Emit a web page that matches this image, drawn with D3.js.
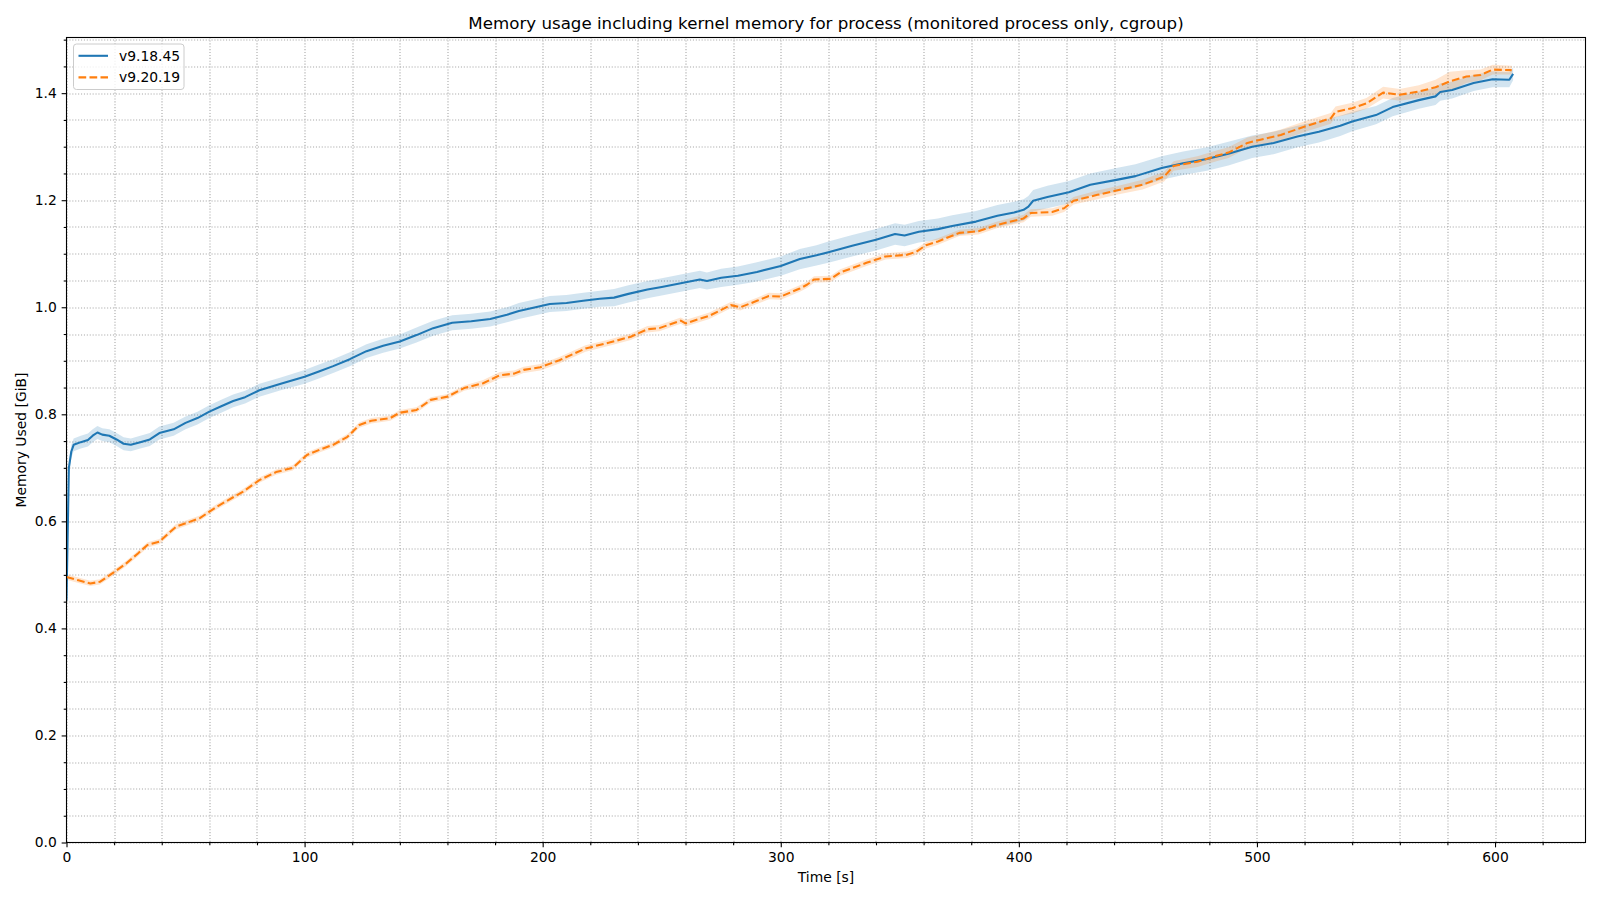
<!DOCTYPE html>
<html>
<head>
<meta charset="utf-8">
<script src="https://cdn.jsdelivr.net/npm/d3@7"></script>
<style>
  html, body { margin: 0; padding: 0; background: #fff; }
  svg { display: block; font-family: "DejaVu Sans", sans-serif; }
</style>
</head>
<body>
<svg id="chart" width="1600" height="900"></svg>
<script>
// ---- data ----
const seriesNames = ["v9.18.45", "v9.20.19"];
const blueTime = [0,1,2,3,6,9,11,13,15,18,21,24,27,31,35,39,45,50,55,60,65,70,75,81,90,100,106,112,119,126,133,140,147,154,162,170,178,185,190,197,203,210,217,224,230,236,244,250,258,266,269,275,282,290,300,308,315,320,330,340,348,352,358,366,372,382,391,398,402,404,406,412,421,430,441,449,460,469,479,488,498,507,517,526,535,540,550,557,568,575,577,582,591,599,606,607.6];
const blueMean = [0.452,0.700,0.730,0.743,0.748,0.752,0.760,0.766,0.762,0.760,0.753,0.745,0.743,0.748,0.753,0.765,0.772,0.784,0.793,0.805,0.815,0.825,0.832,0.845,0.857,0.870,0.880,0.890,0.903,0.918,0.928,0.936,0.948,0.961,0.971,0.974,0.978,0.986,0.993,1.000,1.006,1.008,1.012,1.016,1.018,1.025,1.033,1.038,1.045,1.052,1.049,1.055,1.059,1.066,1.077,1.090,1.097,1.103,1.115,1.126,1.137,1.134,1.141,1.146,1.152,1.160,1.171,1.177,1.182,1.188,1.199,1.206,1.215,1.229,1.238,1.245,1.260,1.269,1.277,1.287,1.300,1.307,1.319,1.328,1.339,1.347,1.359,1.374,1.387,1.394,1.402,1.406,1.419,1.426,1.425,1.436];
const blueHalf = [0.004,0.010,0.012,0.012,0.012,0.012,0.012,0.012,0.012,0.012,0.012,0.012,0.012,0.012,0.012,0.012,0.012,0.012,0.012,0.012,0.012,0.012,0.012,0.012,0.012,0.013,0.013,0.013,0.013,0.013,0.013,0.013,0.014,0.014,0.014,0.014,0.014,0.014,0.015,0.015,0.015,0.015,0.015,0.015,0.016,0.016,0.016,0.016,0.016,0.016,0.016,0.017,0.017,0.018,0.018,0.019,0.019,0.020,0.020,0.020,0.020,0.020,0.020,0.020,0.020,0.020,0.020,0.020,0.020,0.020,0.020,0.021,0.021,0.021,0.022,0.022,0.022,0.022,0.022,0.022,0.021,0.021,0.020,0.020,0.019,0.018,0.017,0.017,0.016,0.016,0.016,0.016,0.015,0.015,0.014,0.012];
const orangeTime = [0,5,10,14,20,25,30,34,39,46,56,63,70,74,81,88,95,101,107,112,118,123,128,136,140,147,153,160,167,175,182,188,192,199,207,214,218,228,237,244,249,258,260,270,279,283,290,295,300,308,311,314,321,325,336,344,353,357,361,366,375,383,391,402,405,414,419,423,433,441,452,461,465,475,483,488,496,510,521,531,533,540,546,553,560,568,575,581,588,594,599,607];
const orangeMean = [0.496,0.490,0.484,0.487,0.505,0.521,0.540,0.556,0.562,0.590,0.606,0.627,0.645,0.655,0.677,0.692,0.700,0.724,0.735,0.743,0.758,0.780,0.788,0.793,0.803,0.808,0.827,0.833,0.849,0.858,0.873,0.876,0.883,0.888,0.901,0.915,0.923,0.934,0.945,0.959,0.961,0.975,0.970,0.984,1.004,1.000,1.012,1.021,1.020,1.035,1.042,1.052,1.053,1.065,1.083,1.095,1.098,1.104,1.116,1.123,1.139,1.142,1.154,1.166,1.176,1.178,1.185,1.199,1.210,1.218,1.229,1.244,1.264,1.272,1.283,1.289,1.307,1.322,1.339,1.353,1.365,1.372,1.381,1.401,1.397,1.403,1.411,1.422,1.431,1.434,1.444,1.443];
const orangeHalf = [0.005,0.005,0.005,0.005,0.005,0.005,0.005,0.005,0.005,0.005,0.005,0.005,0.005,0.005,0.005,0.005,0.005,0.005,0.005,0.005,0.005,0.005,0.005,0.005,0.005,0.005,0.005,0.005,0.005,0.006,0.006,0.006,0.006,0.006,0.006,0.006,0.006,0.006,0.006,0.006,0.006,0.006,0.006,0.006,0.006,0.006,0.006,0.006,0.006,0.006,0.006,0.006,0.006,0.006,0.006,0.006,0.006,0.006,0.006,0.006,0.006,0.006,0.006,0.007,0.007,0.007,0.007,0.007,0.008,0.008,0.009,0.009,0.009,0.010,0.010,0.010,0.010,0.010,0.010,0.010,0.010,0.010,0.010,0.011,0.011,0.012,0.014,0.018,0.012,0.010,0.009,0.008];
const xMajorTicks = [0,100,200,300,400,500,600];
const yMajorTicks = [0.0,0.2,0.4,0.6,0.8,1.0,1.2,1.4];
const xDomain = [0, 638];
const yDomain = [0, 1.504];
const titleText = "Memory usage including kernel memory for process (monitored process only, cgroup)";
const xLabel = "Time [s]";
const yLabel = "Memory Used [GiB]";

// ---- layout ----
const L = 66.5, T = 37.5, R = 1585.5, B = 842.5;
const W = R - L, H = B - T;
const colors = ["#1f77b4", "#ff7f0e"];
const FS = "13.89px";

const svg = d3.select("#chart");
const g = svg.append("g").attr("transform", `translate(${L},${T})`);

const x = d3.scaleLinear().domain(xDomain).range([0, W]);
const y = d3.scaleLinear().domain(yDomain).range([H, 0]);

const xMinor = d3.range(0, xDomain[1], 20).filter(v => v % 100 !== 0);
const yMinor = d3.range(0, yDomain[1], 0.05).map(v => +v.toFixed(2)).filter(v => Math.abs(v*5 - Math.round(v*5)) > 1e-6);

// grid (major + minor, dotted)
const gridG = g.append("g");
const allX = xMajorTicks.concat(xMinor);
const allY = yMajorTicks.concat(yMinor);
gridG.selectAll("line.gx").data(allX).join("line")
  .attr("x1", d => Math.round(x(d)) + 0.5).attr("x2", d => Math.round(x(d)) + 0.5)
  .attr("y1", 0).attr("y2", H)
  .attr("stroke", "#a8a8a8").attr("stroke-width", 1.1).attr("stroke-dasharray", "1.1,1.8");
gridG.selectAll("line.gy").data(allY).join("line")
  .attr("y1", d => Math.round(y(d)) + 0.5).attr("y2", d => Math.round(y(d)) + 0.5)
  .attr("x1", 0).attr("x2", W)
  .attr("stroke", "#a8a8a8").attr("stroke-width", 1.1).attr("stroke-dasharray", "1.1,1.8");

// series
const series = [
  { t: blueTime, m: blueMean, h: blueHalf, dash: null },
  { t: orangeTime, m: orangeMean, h: orangeHalf, dash: "7.7,3.3" }
];
g.append("clipPath").attr("id", "clip").append("rect").attr("width", W).attr("height", H);
const plotG = g.append("g").attr("clip-path", "url(#clip)");

series.forEach((s, i) => {
  const pts = s.t.map((t, k) => ({ t, m: s.m[k], h: s.h[k] }));
  const area = d3.area().x(d => x(d.t)).y0(d => y(d.m - d.h)).y1(d => y(d.m + d.h));
  plotG.append("path").datum(pts).attr("d", area)
    .attr("fill", colors[i]).attr("fill-opacity", 0.2).attr("stroke", "none");
});
series.forEach((s, i) => {
  const pts = s.t.map((t, k) => ({ t, m: s.m[k] }));
  const line = d3.line().x(d => x(d.t)).y(d => y(d.m));
  plotG.append("path").datum(pts).attr("d", line)
    .attr("fill", "none").attr("stroke", colors[i]).attr("stroke-width", 2.08)
    .attr("stroke-linejoin", "round")
    .attr("stroke-dasharray", s.dash);
});

// axes
const xAxis = d3.axisBottom(x).tickValues(xMajorTicks).tickFormat(d3.format("d")).tickSize(4.86).tickPadding(4.86);
const yAxis = d3.axisLeft(y).tickValues(yMajorTicks).tickFormat(d3.format(".1f")).tickSize(4.86).tickPadding(4.86);
const xAxisG = g.append("g").attr("transform", `translate(0,${H})`).call(xAxis);
const yAxisG = g.append("g").call(yAxis);
const xMinorG = g.append("g").attr("transform", `translate(0,${H})`)
  .call(d3.axisBottom(x).tickValues(xMinor).tickFormat("").tickSize(2.78));
const yMinorG = g.append("g")
  .call(d3.axisLeft(y).tickValues(yMinor).tickFormat("").tickSize(2.78));
[xAxisG, yAxisG, xMinorG, yMinorG].forEach(a => {
  a.select(".domain").remove();
  a.selectAll("line").attr("stroke", "#000").attr("stroke-width", 1.1);
  a.selectAll("text").attr("font-size", FS).attr("font-family", "DejaVu Sans").attr("fill", "#000");
});

// frame
g.append("rect").attr("x", 0).attr("y", 0).attr("width", W).attr("height", H)
  .attr("fill", "none").attr("stroke", "#000").attr("stroke-width", 1.1);

// title & labels
svg.append("text").attr("x", L + W / 2).attr("y", 28.8).attr("text-anchor", "middle")
  .attr("font-size", "16.67px").text(titleText);
svg.append("text").attr("x", L + W / 2).attr("y", 881.5).attr("text-anchor", "middle")
  .attr("font-size", FS).text(xLabel);
svg.append("text").attr("transform", `translate(25.5,${T + H / 2}) rotate(-90)`)
  .attr("text-anchor", "middle").attr("font-size", FS).text(yLabel);

// legend
const lg = svg.append("g").attr("transform", "translate(73.5,44)");
lg.append("rect").attr("width", 110.5).attr("height", 45.5).attr("rx", 3).attr("ry", 3)
  .attr("fill", "#fff").attr("fill-opacity", 0.8).attr("stroke", "#cccccc").attr("stroke-width", 1);
seriesNames.forEach((name, i) => {
  const cy = 11.8 + i * 21.6;
  lg.append("line").attr("x1", 5).attr("x2", 34.5).attr("y1", cy).attr("y2", cy)
    .attr("stroke", colors[i]).attr("stroke-width", 2.08)
    .attr("stroke-dasharray", series[i].dash);
  lg.append("text").attr("x", 45.5).attr("y", cy).attr("dy", "0.35em")
    .attr("font-size", FS).text(name);
});
</script>
</body>
</html>
